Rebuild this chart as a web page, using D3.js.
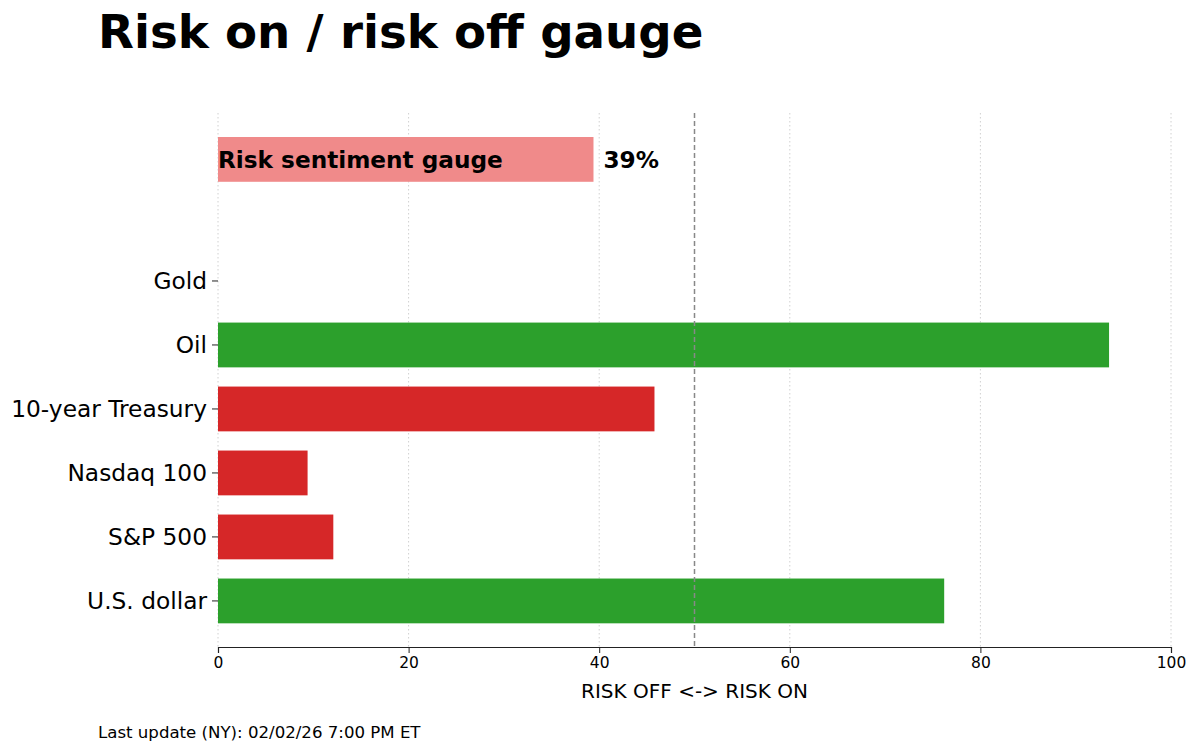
<!DOCTYPE html>
<html><head><meta charset="utf-8">
<script src="https://cdn.jsdelivr.net/npm/d3@7"></script>
<style>body{margin:0;background:#fff}svg{display:block}text{font-family:"DejaVu Sans",sans-serif}</style>
</head><body>
<svg id="c" width="1200" height="752"></svg>
<script>
const categories = ["U.S. dollar","S&P 500","Nasdaq 100","10-year Treasury","Oil","Gold"];
const values = [76.2, 12.1, 9.4, 45.8, 93.5, 0];
const barColors = ["#2ca02c","#d62728","#d62728","#d62728","#2ca02c","#2ca02c"];
const gaugeLabel = "Risk sentiment gauge";
const gaugeValue = 39.4;
const gaugePos = 6.9;
const xTicks = [0,20,40,60,80,100];
const threshold = 50;
const title = "Risk on / risk off gauge";
const xLabel = "RISK OFF <-> RISK ON";
const footer = "Last update (NY): 02/02/26 7:00 PM ET";

const svg = d3.select("#c");
const x = d3.scaleLinear().domain([0,100]).range([218,1171]);
const y = d3.scaleLinear().domain([-0.72,7.625]).range([647,113]);
const bh = y(0) - y(0.7);

// grid
svg.append("g").selectAll("line").data(xTicks).join("line")
  .attr("x1",d=>x(d)).attr("x2",d=>x(d)).attr("y1",y.range()[1]).attr("y2",y.range()[0])
  .attr("stroke","#d0d0d0").attr("stroke-width",1).attr("stroke-dasharray","1.5,2.5");

// bars
svg.append("g").selectAll("rect").data(categories).join("rect")
  .attr("x",x(0)).attr("y",(d,i)=>y(i)-bh/2)
  .attr("width",(d,i)=>x(values[i])-x(0)).attr("height",bh)
  .attr("fill",(d,i)=>barColors[i]);

// gauge
svg.append("rect").attr("x",x(0)).attr("y",y(gaugePos)-bh/2)
  .attr("width",x(gaugeValue)-x(0)).attr("height",bh).attr("fill","#f08a8a");
svg.append("text").attr("x",x(0)).attr("y",y(gaugePos)).attr("dy","0.35em")
  .attr("font-size",23.2).attr("font-weight","bold").text(gaugeLabel);
svg.append("text").attr("x",x(gaugeValue)+10).attr("y",y(gaugePos)).attr("dy","0.35em")
  .attr("font-size",23.2).attr("font-weight","bold").text(Math.round(gaugeValue)+"%");

// threshold
svg.append("line").attr("x1",x(threshold)).attr("x2",x(threshold))
  .attr("y1",y.range()[1]).attr("y2",y.range()[0])
  .attr("stroke","#888").attr("stroke-width",1.5).attr("stroke-dasharray","5,3");

// x axis
const xa = svg.append("g").attr("transform",`translate(0,${y.range()[0]})`)
  .call(d3.axisBottom(x).tickValues(xTicks).tickSize(6).tickPadding(4));
xa.select(".domain").attr("stroke","#222").attr("stroke-width",1.2);
xa.selectAll("line").attr("stroke","#222");
xa.selectAll("text").attr("font-size",15.5).attr("font-family","DejaVu Sans").attr("fill","#000");

// y axis ticks
const yg = svg.append("g");
categories.forEach((c,i)=>{
  yg.append("line").attr("x1",x(0)-6).attr("x2",x(0)).attr("y1",y(i)).attr("y2",y(i)).attr("stroke","#222");
  yg.append("text").attr("x",x(0)-11).attr("y",y(i)).attr("dy","0.35em").attr("text-anchor","end")
    .attr("font-size",23.3).text(c);
});

svg.append("text").attr("x",(x(0)+x(100))/2).attr("y",698).attr("text-anchor","middle")
  .attr("font-size",20).text(xLabel);
svg.append("text").attr("x",98).attr("y",48).attr("font-size",46.7).attr("font-weight","bold").text(title);
svg.append("text").attr("x",98).attr("y",738).attr("font-size",16.6).text(footer);
</script>
</body></html>
